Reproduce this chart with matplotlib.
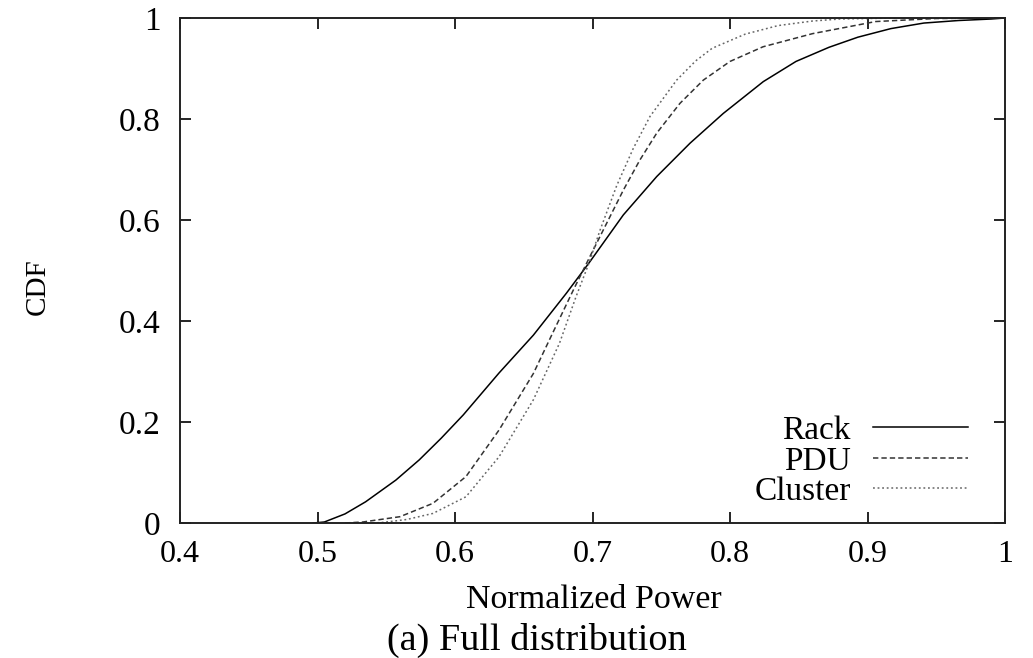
import matplotlib
matplotlib.use("Agg")
import matplotlib.pyplot as plt

# Data
rack_x = [0.497, 0.505, 0.520, 0.535, 0.557, 0.574, 0.590, 0.606, 0.632, 0.657, 0.681, 0.698,
          0.7224, 0.7467, 0.7709, 0.7951, 0.8242, 0.848, 0.872, 0.893, 0.917, 0.941, 0.966, 0.990, 1.0]
rack_y = [0.0, 0.002, 0.018, 0.042, 0.085, 0.125, 0.168, 0.214, 0.297, 0.372, 0.455, 0.517,
          0.610, 0.686, 0.752, 0.811, 0.874, 0.914, 0.942, 0.962, 0.979, 0.990, 0.995, 0.998, 1.0]

pdu_x = [0.52, 0.533, 0.560, 0.584, 0.608, 0.632, 0.657, 0.671, 0.686, 0.698, 0.7224, 0.7345,
         0.7467, 0.7636, 0.7806, 0.800, 0.824, 0.860, 0.906, 0.950, 1.0]
pdu_y = [0.0, 0.002, 0.0125, 0.039, 0.092, 0.184, 0.296, 0.376, 0.461, 0.527, 0.659, 0.719,
         0.772, 0.831, 0.877, 0.914, 0.943, 0.969, 0.993, 0.999, 1.0]

cluster_x = [0.54, 0.547, 0.565, 0.584, 0.608, 0.632, 0.657, 0.676, 0.688, 0.6975, 0.7055, 0.7176,
             0.7297, 0.7418, 0.7612, 0.775, 0.787, 0.811, 0.835, 0.860, 0.880, 0.920, 1.0]
cluster_y = [0.0, 0.001, 0.007, 0.019, 0.052, 0.131, 0.244, 0.356, 0.448, 0.515, 0.580, 0.668,
             0.742, 0.805, 0.877, 0.915, 0.940, 0.968, 0.985, 0.994, 0.998, 1.0, 1.0]

x_ticks = [0.4, 0.5, 0.6, 0.7, 0.8, 0.9, 1.0]
x_labels = ["0.4", "0.5", "0.6", "0.7", "0.8", "0.9", "1"]
y_ticks = [0, 0.2, 0.4, 0.6, 0.8, 1.0]
y_labels = ["0", "0.2", "0.4", "0.6", "0.8", "1"]

plt.rcParams['font.family'] = ['Liberation Serif', 'DejaVu Serif']

fig = plt.figure(figsize=(10.33, 6.58), dpi=100)
ax = fig.add_axes([180/1033, 1-523/658, (1005-180)/1033, (523-18)/658])

ax.plot(rack_x, rack_y, color='black', lw=1.1, ls='-', label='Rack')
ax.plot(pdu_x, pdu_y, color='#333333', lw=1.1, ls=(0, (3.5, 2)), label='PDU')
ax.plot(cluster_x, cluster_y, color='#666666', lw=1.1, ls=(0, (1.2, 1.8)), label='Cluster')

ax.set_xlim(0.4, 1.0)
ax.set_ylim(0, 1.0)
ax.set_xticks(x_ticks)
ax.set_xticklabels(x_labels, fontsize=23)
ax.set_yticks(y_ticks)
ax.set_yticklabels(y_labels, fontsize=24)
ax.tick_params(direction='in', length=8, width=1.2, top=True, right=True)
ax.tick_params(axis='x', pad=12)
ax.tick_params(axis='y', pad=14)
for s in ax.spines.values():
    s.set_linewidth(1.4)
    s.set_color('#222222')

fig.text(594/1033, 1-600/658, "Normalized Power", fontsize=24.5, ha='center', va='center')
fig.text(537/1033, 1-640/658, "(a) Full distribution", fontsize=27.5, ha='center', va='center')
fig.text(38/1033, 1-287/658, "CDF", fontsize=21, rotation=90, ha='center', va='center')

leg = ax.legend(loc='lower right', bbox_to_anchor=(968/1033, 1-507/658),
                bbox_transform=fig.transFigure, frameon=False, markerfirst=False,
                fontsize=24, handlelength=2.85, handletextpad=0.66, labelspacing=0.0,
                borderpad=0, borderaxespad=0)

fig.savefig("out.png", dpi=100)
